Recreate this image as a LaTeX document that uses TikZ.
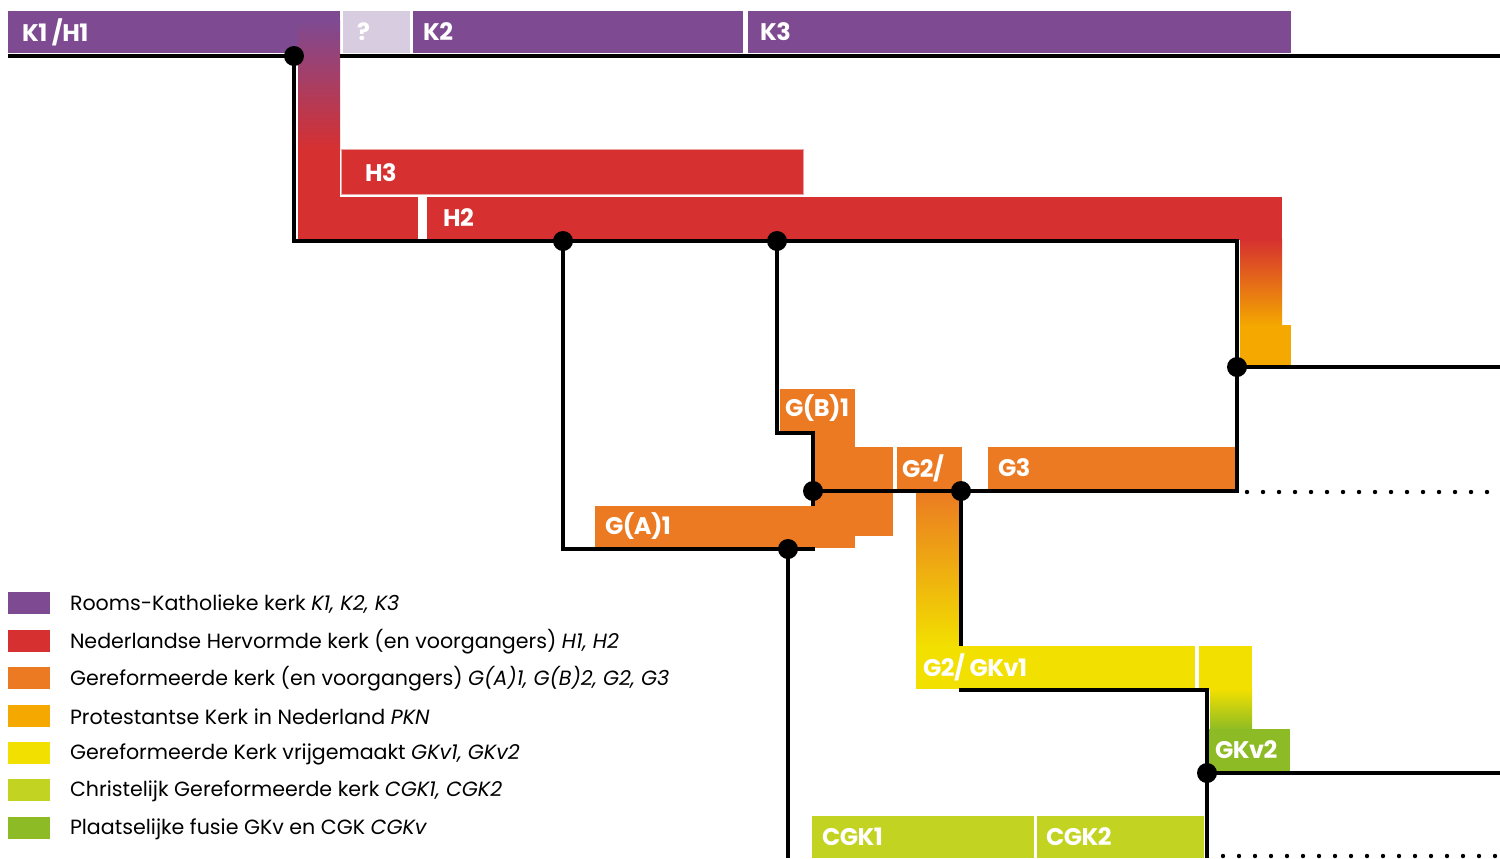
\documentclass[tikz,border=0pt]{standalone}
\usepackage{fontspec}
\setmainfont{Poppins}
\definecolor{kpaars}{HTML}{7E4A92}
\definecolor{klila}{HTML}{D8CCE0}
\definecolor{hrood}{HTML}{D63030}
\definecolor{goranje}{HTML}{EB7A22}
\definecolor{pkn}{HTML}{F4A800}
\definecolor{gkvgeel}{HTML}{F2E000}
\definecolor{cgkgroen}{HTML}{C3D321}
\definecolor{fusie}{HTML}{8DBB25}
\begin{document}
\begin{tikzpicture}[%
    x = 0.5pt, y = -0.5pt,
    every node/.style = {inner sep=0pt, outer sep=0pt},
    lbl/.style = {anchor=west, text=white, font=\fontsize{12}{12}\selectfont\bfseries\addfontfeatures{LetterSpace=-2}},
    key/.style = {anchor=west, font=\fontsize{10.3}{10.3}\selectfont},
    tak/.style = {draw=black, line width=2.3pt},
    stip/.style = {draw=black, line width=2.2pt, line cap=round, dash pattern=on 0pt off 8pt}%
  ]
    \useasboundingbox (0,0) rectangle (1500,858);

    % balken
    \fill[kpaars] (8,11) rectangle (340,53);
    \shade[top color=kpaars, bottom color=hrood] (298,20) rectangle (340,150);
    \fill[hrood] (298,149) rectangle (340,240);
    \fill[hrood] (298,197) rectangle (418,240);
    \fill[klila] (343,11) rectangle (410,53);
    \fill[kpaars] (413,11) rectangle (743,53);
    \fill[kpaars] (748,11) rectangle (1291,53);
    \fill[hrood, draw=hrood!45!white, line width=0.5pt] (341,149) rectangle (803,194);
    \fill[hrood] (427,197) rectangle (1282,240);
    \shade[top color=hrood, middle color=goranje, bottom color=pkn] (1240,239) rectangle (1282,326);
    \fill[pkn] (1240,325) rectangle (1291,365);
    \fill[goranje] (780,389) rectangle (855,432);
    \fill[goranje] (813,430) rectangle (855,508);
    \fill[goranje] (813,447) rectangle (893,536);
    \fill[goranje] (595,506) rectangle (855,548);
    \fill[goranje] (897,447) rectangle (962,491);
    \fill[goranje] (988,447) rectangle (1235,491);
    \shade[top color=goranje, bottom color=gkvgeel] (916,490) rectangle (959,647);
    \fill[gkvgeel] (916,646) rectangle (1195,689);
    \fill[gkvgeel] (1199,646) rectangle (1252,690);
    \shade[top color=gkvgeel, bottom color=fusie] (1210,689) rectangle (1252,730);
    \fill[fusie] (1209,729) rectangle (1290,772);
    \fill[cgkgroen] (812,816) rectangle (1034,858);
    \fill[cgkgroen] (1037,816) rectangle (1204,858);

    % knooppunten
    \coordinate (begin) at (8,56);
    \coordinate (splitK) at (294,56);
    \coordinate (k2start) at (340,56);
    \coordinate (k3eind) at (1500,56);
    \coordinate (splitHa) at (563,241);
    \coordinate (splitHb) at (777,241);
    \coordinate (hoekH) at (1237,241);
    \coordinate (splitP) at (1237,367);
    \coordinate (pkneind) at (1500,367);
    \coordinate (hoekG) at (1237,491);
    \coordinate (splitGb) at (813,491);
    \coordinate (hoekGb) at (813,433);
    \coordinate (hoekGa) at (777,433);
    \coordinate (hoekA) at (563,549);
    \coordinate (eindA) at (815,549);
    \coordinate (splitA) at (788,549);
    \coordinate (cgkeind) at (788,858);
    \coordinate (splitG) at (961,491);
    \coordinate (gkvtop) at (961,646);
    \coordinate (gkvstart) at (959,690);
    \coordinate (hoekV) at (1207,690);
    \coordinate (splitV) at (1207,773);
    \coordinate (cgk2eind) at (1207,858);
    \coordinate (gkv2eind) at (1500,773);
    \coordinate (stipG) at (1247,492);
    \coordinate (stipGe) at (1500,492);
    \coordinate (stipC) at (1223,856);
    \coordinate (stipCe) at (1500,856);

    % takken
    \draw[tak] (begin) -- (splitK) -- (294,241) -- (hoekH) -- (hoekG) -- (splitGb) -- (hoekGb) -- (hoekGa) -- (splitHb);
    \draw[tak] (k2start) -- (k3eind);
    \draw[tak] (splitP) -- (pkneind);
    \draw[tak] (splitHa) -- (hoekA) -- (eindA);
    \draw[tak] (splitA) -- (cgkeind);
    \draw[tak] (splitGb) -- (813,506);
    \draw[tak] (splitG) -- (gkvtop);
    \draw[tak] (gkvstart) -- (hoekV) -- (cgk2eind);
    \draw[tak] (splitV) -- (gkv2eind);
    \draw[stip] (stipG) -- (stipGe);
    \draw[stip] (stipC) -- (stipCe);
    \foreach \p in {splitK, splitHa, splitHb, splitP, splitGb, splitG, splitA, splitV}
      \fill (\p) circle[radius=10];

    % namen
    \node[lbl] (k1) at (22,32) {K1 /H1};
    \node[lbl] (onb) at (357,32) {?};
    \node[lbl] (k2) at (423,32) {K2};
    \node[lbl] (k3) at (760,32) {K3};
    \node[lbl] (h3) at (365,173) {H3};
    \node[lbl] (h2) at (443,218) {H2};
    \node[lbl] (gb1) at (785,408) {G(B)1};
    \node[lbl] (ga1) at (605,526) {G(A)1};
    \node[lbl] (g2) at (902,468) {G2/};
    \node[lbl] (g3) at (998,468) {G3};
    \node[lbl] (gkv1) at (923,667) {G2/ GKv1};
    \node[lbl] (gkv2) at (1215,750) {GKv2};
    \node[lbl] (cgk1) at (822,837) {CGK1};
    \node[lbl] (cgk2) at (1046,837) {CGK2};

    % legenda
    \fill[kpaars] (8,592) rectangle (50,614);
    \fill[hrood] (8,630) rectangle (50,652);
    \fill[goranje] (8,667) rectangle (50,689);
    \fill[pkn] (8,705) rectangle (50,727);
    \fill[gkvgeel] (8,742) rectangle (50,764);
    \fill[cgkgroen] (8,779) rectangle (50,801);
    \fill[fusie] (8,817) rectangle (50,839);
    \node[key] (rk) at (70,604) {Rooms-Katholieke kerk \textit{K1, K2, K3}};
    \node[key] (nh) at (70,642) {Nederlandse Hervormde kerk (en voorgangers) \textit{H1, H2}};
    \node[key] (gk) at (70,679) {Gereformeerde kerk (en voorgangers) \textit{G(A)1, G(B)2, G2, G3}};
    \node[key] (pk) at (70,717) {Protestantse Kerk in Nederland \textit{PKN}};
    \node[key] (vr) at (70,754) {Gereformeerde Kerk vrijgemaakt \textit{GKv1, GKv2}};
    \node[key] (cg) at (70,791) {Christelijk Gereformeerde kerk \textit{CGK1, CGK2}};
    \node[key] (pf) at (70,829) {Plaatselijke fusie GKv en CGK \textit{CGKv}};
  \end{tikzpicture}
\end{document}
